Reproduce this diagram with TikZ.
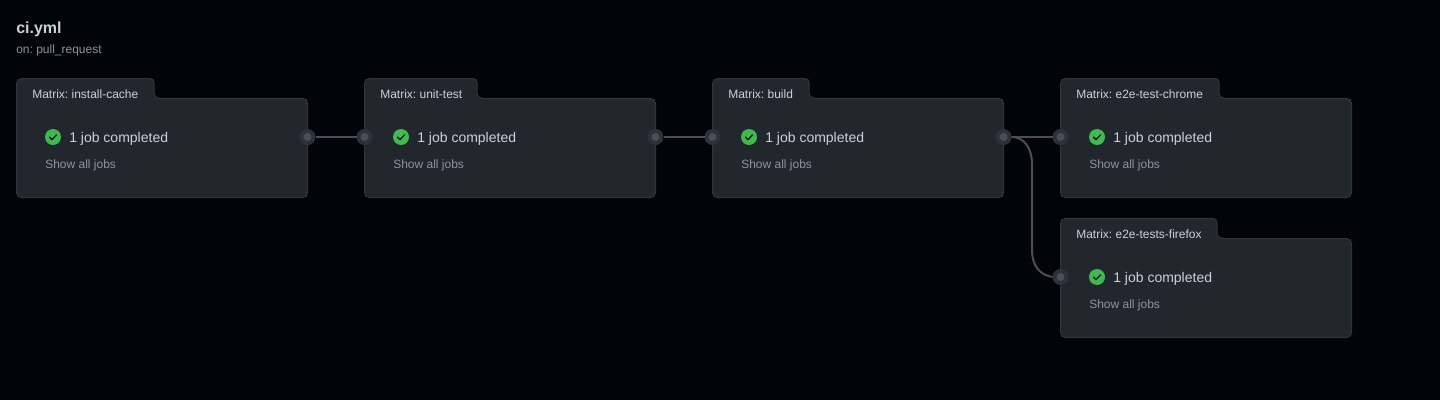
\documentclass[tikz,border=0pt]{standalone}
\usepackage{fontspec}
\setmainfont{Liberation Sans}
\frenchspacing
\definecolor{pagebg}{HTML}{010409}
\definecolor{cardbg}{HTML}{22272E}
\definecolor{cardline}{HTML}{30363D}
\definecolor{portout}{HTML}{2D3139}
\definecolor{portin}{HTML}{484F58}
\definecolor{wire}{HTML}{484F58}
\definecolor{maintext}{HTML}{C9D1D9}
\definecolor{subtext}{HTML}{8B949E}
\definecolor{okgreen}{HTML}{3FB950}
\tikzset{
  cardshape/.style={fill=cardbg,draw=cardline,line width=0.75pt},
  portnode/.style={circle,fill=portin,draw=portout,line width=3pt,inner sep=0pt,minimum size=9pt},
  wirestyle/.style={draw=wire,line width=1.5pt},
  tabtext/.style={anchor=base west,inner sep=0pt,text=maintext,font=\fontsize{9}{11}\selectfont},
  jobtext/.style={anchor=base west,inner sep=0pt,text=maintext,font=\fontsize{10.5}{13}\selectfont},
  showtext/.style={anchor=base west,inner sep=0pt,text=subtext,font=\fontsize{9}{11}\selectfont},
  okdot/.style={circle,fill=okgreen,inner sep=0pt,minimum size=12pt},
  okcheck/.style={draw=cardbg!70!black,line width=1pt,line cap=round,line join=round},
}
% #1 name, #2 left x, #3 top y, #4 tab right x, #5 title
\newcommand{\jobcard}[5]{
  \draw[cardshape]
    (#2+5.5,#3+0.5) -- (#4-5,#3+0.5)
    .. controls (#4-2,#3+0.5) and (#4-0.5,#3+2) .. (#4-0.5,#3+5)
    -- (#4-0.5,#3+14)
    .. controls (#4-0.5,#3+18) and (#4+2,#3+20.5) .. (#4+5,#3+20.5)
    -- (#2+286.5,#3+20.5)
    .. controls (#2+289.5,#3+20.5) and (#2+291.5,#3+22.5) .. (#2+291.5,#3+25.5)
    -- (#2+291.5,#3+114.5)
    .. controls (#2+291.5,#3+117.5) and (#2+289.5,#3+119.5) .. (#2+286.5,#3+119.5)
    -- (#2+5.5,#3+119.5)
    .. controls (#2+2.5,#3+119.5) and (#2+0.5,#3+117.5) .. (#2+0.5,#3+114.5)
    -- (#2+0.5,#3+5.5)
    .. controls (#2+0.5,#3+2.5) and (#2+2.5,#3+0.5) .. (#2+5.5,#3+0.5) -- cycle;
  \node[tabtext] (#1title) at (#2+16,#3+20) {#5};
  \node[okdot] (#1ok) at (#2+37,#3+59) {};
  \draw[okcheck] (#2+33.6,#3+59.2) -- (#2+36,#3+61.6) -- (#2+40.6,#3+56.8);
  \node[jobtext] (#1job) at (#2+53,#3+64) {1 job completed};
  \node[showtext] (#1show) at (#2+29,#3+90) {Show all jobs};
}
\begin{document}
\begin{tikzpicture}[x=0.75pt,y=-0.75pt]
\path[use as bounding box,fill=pagebg] (0,0) rectangle (1440,400);
\node[anchor=base west,inner sep=0pt,text=maintext,font=\fontsize{12}{14}\selectfont\bfseries] (wftitle) at (16,33) {ci.yml};
\node[anchor=base west,inner sep=0pt,text=subtext,font=\fontsize{9}{11}\selectfont] (wfsub) at (16,53) {on: pull\_request};
\jobcard{a}{16}{78}{154.5}{Matrix: install-cache}
\jobcard{b}{364}{78}{477.5}{Matrix: unit-test}
\jobcard{c}{712}{78}{809.5}{Matrix: build}
\jobcard{d}{1060}{78}{1219.5}{Matrix: e2e-test-chrome}
\jobcard{e}{1060}{218}{1217.5}{Matrix: e2e-tests-firefox}
\node[portnode] (aR) at (307.5,137) {};
\node[portnode] (bL) at (364.5,137) {};
\node[portnode] (bR) at (655.5,137) {};
\node[portnode] (cL) at (712.5,137) {};
\node[portnode] (cR) at (1003.5,137) {};
\node[portnode] (dL) at (1060.5,137) {};
\node[portnode] (eL) at (1060.5,277) {};
\draw[wirestyle] (aR) -- (bL);
\draw[wirestyle] (bR) -- (cL);
\draw[wirestyle] (cR) -- (dL);
\draw[wirestyle] (cR.east)
  .. controls (1024,137) and (1032,148) .. (1032,164)
  -- (1032,250)
  .. controls (1032,266) and (1040,275) .. (eL.west);
\end{tikzpicture}
\end{document}
